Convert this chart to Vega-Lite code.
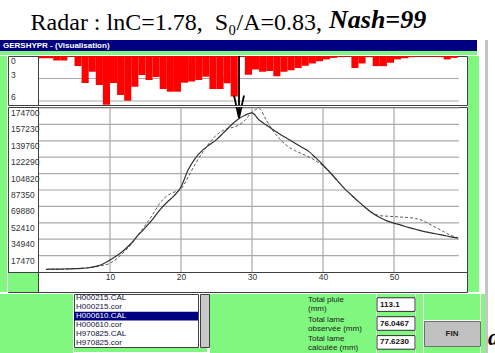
{
  "$schema": "https://vega.github.io/schema/vega-lite/v6.json",
  "padding": 0,
  "background": "white",
  "spacing": 0,
  "config": {"view": {"stroke": null}, "font": "Liberation Sans", "axis": {"labelOverlap": false, "labelBound": false}},
  "datasets": {
    "rain": [
      {"t0":0,"t1":1,"p":0.3},{"t0":1,"t1":2,"p":0.3},{"t0":2,"t1":3,"p":0.6},{"t0":3,"t1":4,"p":0.6},{"t0":4,"t1":5,"p":0.1},
      {"t0":5,"t1":6,"p":1.33},{"t0":6,"t1":7,"p":3.6},{"t0":7,"t1":8,"p":2.1},{"t0":8,"t1":9,"p":3.87},{"t0":9,"t1":10,"p":6.5},
      {"t0":10,"t1":11,"p":3.6},{"t0":11,"t1":12,"p":5.2},{"t0":12,"t1":13,"p":5.96},{"t0":13,"t1":14,"p":4.1},{"t0":14,"t1":15,"p":2.53},
      {"t0":15,"t1":16,"p":3.2},{"t0":16,"t1":17,"p":2.8},{"t0":17,"t1":18,"p":4.4},{"t0":18,"t1":19,"p":4.76},{"t0":19,"t1":20,"p":4.76},
      {"t0":20,"t1":21,"p":3.56},{"t0":21,"t1":22,"p":3.4},{"t0":22,"t1":23,"p":3.2},{"t0":23,"t1":24,"p":2.76},{"t0":24,"t1":25,"p":4.4},
      {"t0":25,"t1":26,"p":4.4},{"t0":26,"t1":27,"p":3.64},{"t0":27,"t1":28,"p":5.4},{"t0":28,"t1":29,"p":0.1},{"t0":29,"t1":30,"p":2.5},
      {"t0":30,"t1":31,"p":1.8},{"t0":31,"t1":32,"p":2.1},{"t0":32,"t1":33,"p":2.0},{"t0":33,"t1":34,"p":2.7},{"t0":34,"t1":35,"p":2.1},
      {"t0":35,"t1":36,"p":1.9},{"t0":36,"t1":37,"p":1.6},{"t0":37,"t1":38,"p":1.3},{"t0":38,"t1":39,"p":1.0},{"t0":39,"t1":40,"p":0.7},
      {"t0":40,"t1":41,"p":0.45},{"t0":41,"t1":42,"p":0.25},{"t0":42,"t1":43,"p":0.15},{"t0":43,"t1":44,"p":0.1},{"t0":44,"t1":45,"p":1.6},
      {"t0":45,"t1":46,"p":1.0},{"t0":46,"t1":47,"p":0.15},{"t0":47,"t1":48,"p":1.35},{"t0":48,"t1":49,"p":1.35},{"t0":49,"t1":50,"p":0.9},
      {"t0":50,"t1":51,"p":0.45},{"t0":51,"t1":52,"p":0.3},{"t0":52,"t1":53,"p":0.15},{"t0":53,"t1":54,"p":0.1},{"t0":54,"t1":55,"p":0.1},
      {"t0":55,"t1":56,"p":0.1},{"t0":56,"t1":57,"p":0.15},{"t0":57,"t1":58,"p":0.45},{"t0":58,"t1":59,"p":0.25}
    ],
    "flow": [
      {"t":1,"calc":2900,"obs":2800},{"t":2,"calc":3000,"obs":2900},{"t":3,"calc":3100,"obs":3000},{"t":4,"calc":3300,"obs":3300},
      {"t":5,"calc":3500,"obs":3600},{"t":6,"calc":3900,"obs":4000},{"t":7,"calc":4500,"obs":4600},{"t":8,"calc":6000,"obs":5500},
      {"t":9,"calc":8500,"obs":7000},{"t":10,"calc":12800,"obs":9300},{"t":11,"calc":17500,"obs":14500},{"t":12,"calc":23500,"obs":21500},
      {"t":13,"calc":30600,"obs":29500},{"t":14,"calc":39500,"obs":40000},{"t":15,"calc":47500,"obs":50000},{"t":16,"calc":56000,"obs":61000},
      {"t":17,"calc":66000,"obs":73000},{"t":18,"calc":74000,"obs":81000},{"t":19,"calc":81000,"obs":85000},{"t":20,"calc":90500,"obs":88500},
      {"t":21,"calc":108600,"obs":101000},{"t":22,"calc":121000,"obs":115000},{"t":23,"calc":129500,"obs":127000},{"t":24,"calc":135500,"obs":137500},
      {"t":25,"calc":141000,"obs":146000},{"t":26,"calc":148500,"obs":151000},{"t":27,"calc":156000,"obs":153500},{"t":28,"calc":162500,"obs":156000},
      {"t":29,"calc":167000,"obs":161500},{"t":30,"calc":169500,"obs":170500},{"t":31,"calc":162000,"obs":174000},{"t":32,"calc":156500,"obs":162000},
      {"t":33,"calc":151500,"obs":150000},{"t":34,"calc":146500,"obs":141000},{"t":35,"calc":142000,"obs":134000},{"t":36,"calc":137500,"obs":129500},
      {"t":37,"calc":133000,"obs":126000},{"t":38,"calc":128500,"obs":122500},{"t":39,"calc":121500,"obs":118500},{"t":40,"calc":114000,"obs":113000},
      {"t":41,"calc":106000,"obs":106000},{"t":42,"calc":97500,"obs":97000},{"t":43,"calc":89000,"obs":89000},{"t":44,"calc":82000,"obs":82000},
      {"t":45,"calc":75000,"obs":75000},{"t":46,"calc":68500,"obs":68500},{"t":47,"calc":62500,"obs":63000},{"t":48,"calc":58000,"obs":60000},
      {"t":49,"calc":54500,"obs":59500},{"t":50,"calc":52000,"obs":59000},{"t":51,"calc":50000,"obs":58500},{"t":52,"calc":47500,"obs":58000},
      {"t":53,"calc":45500,"obs":57000},{"t":54,"calc":43500,"obs":55000},{"t":55,"calc":42000,"obs":51000},{"t":56,"calc":40500,"obs":47000},
      {"t":57,"calc":39000,"obs":43000},{"t":58,"calc":37500,"obs":39000},{"t":59,"calc":36000,"obs":36500}
    ],
    "files": [
      {"f":"H000215.CAL","sel":false},{"f":"H000215.cor","sel":false},{"f":"H000610.CAL","sel":true},
      {"f":"H000610.cor","sel":false},{"f":"H970825.CAL","sel":false},{"f":"H970825.cor","sel":false}
    ],
    "totals": [
      {"k":"a","label":"Total pluie\n(mm)","val":"113.1"},
      {"k":"b","label":"Total lame\nobservée (mm)","val":"76.0467"},
      {"k":"c","label":"Total lame\ncalculée (mm)","val":"77.6230"}
    ],
    "qgrid": [{"q":17470},{"q":34940},{"q":52410},{"q":69880},{"q":87350},{"q":104820},{"q":122290},{"q":139760},{"q":157230},{"q":174700}]
  },
  "vconcat": [
    {"width": 495, "height": 7, "data": {"values": []}, "mark": "point"},
    {
      "spacing": 0,
      "hconcat": [
        {"width": 322, "height": 1, "data": {"values": []}, "mark": "point",
         "title": {"text": "Radar : lnC=1.78,\u00a0 S\u2080/A=0.83,", "orient": "top", "anchor": "end", "frame": "group", "offset": -15, "baseline": "alphabetic", "font": "Liberation Serif", "fontSize": 24, "fontWeight": "normal", "color": "black"}},
        {"width": 173, "height": 1, "data": {"values": []}, "mark": "point",
         "title": {"text": "Nash=99", "orient": "top", "anchor": "start", "frame": "group", "offset": -15, "dx": 7, "baseline": "alphabetic", "font": "Liberation Serif", "fontSize": 26, "fontWeight": "bold", "fontStyle": "italic", "color": "black"}}
      ]
    },
    {
      "spacing": 0,
      "hconcat": [
        {
          "spacing": 0,
          "vconcat": [
            {"width": 477, "height": 11, "view": {"fill": "#000080"},
             "data": {"values": [{"s": "GERSHYPR - (Visualisation)"}]},
             "mark": {"type": "text", "align": "left", "baseline": "middle", "dx": 3, "fontSize": 8, "fontWeight": "bold", "color": "white"},
             "encoding": {"x": {"datum": 0, "type": "quantitative", "scale": {"domain": [0, 1]}, "axis": null}, "text": {"field": "s"}}},
            {"width": 477, "height": 4, "view": {"fill": "#80f880"}, "data": {"values": []}, "mark": "point"},
            {
              "spacing": 0,
              "hconcat": [
                {"width": 7, "height": 236, "view": {"fill": "#80f880"}, "data": {"values": []}, "mark": "point"},
                {
                  "spacing": 0,
                  "vconcat": [
                    {
                      "width": 459, "height": 49,
                      "view": {"fill": "white", "stroke": "#404040"},
                      "layer": [
                        {
                          "data": {"values": [{"g": 3}, {"g": 6}]},
                          "mark": {"type": "rule", "color": "#aaaaaa", "strokeWidth": 1.2},
                          "encoding": {
                            "y": {"field": "g", "type": "quantitative", "scale": {"domain": [0, 6.533], "reverse": true, "nice": false, "zero": false},
                                  "axis": {"orient": "left", "offset": -30, "values": [0, 3, 6], "grid": false, "ticks": false, "labels": false, "domain": true, "domainColor": "#404040", "title": null, "zindex": 1}},
                            "x": {"datum": 0, "type": "quantitative", "scale": {"domain": [-4.366, 60.282], "nice": false, "zero": false}, "axis": null},
                            "x2": {"datum": 59.15}
                          }
                        },
                        {
                          "data": {"values": [{"g": 0}, {"g": 3}, {"g": 6}]},
                          "mark": {"type": "text", "align": "left", "baseline": "middle", "dx": 3, "dy": {"expr": "datum.g == 0 ? 5 : -4"}, "fontSize": 8.5, "color": "#333333"},
                          "encoding": {
                            "x": {"datum": -4.366, "type": "quantitative"},
                            "y": {"field": "g", "type": "quantitative", "title": null},
                            "text": {"field": "g", "type": "quantitative"}
                          }
                        },
                        {
                          "data": {"name": "rain"},
                          "mark": {"type": "rect", "color": "#ff0000"},
                          "encoding": {
                            "x": {"field": "t0", "type": "quantitative", "title": null},
                            "x2": {"field": "t1"},
                            "y": {"field": "p", "type": "quantitative", "title": null},
                            "y2": {"datum": 0}
                          }
                        },
                        {
                          "data": {"values": [{"t": 28.17, "p": 8.27}]},
                          "mark": {"type": "point", "clip": true, "shape": "M0,-2.48L0,0M-0.2,-0.9L0,0L0.2,-0.9", "size": 2500, "filled": false, "stroke": "black", "strokeWidth": 1.8, "opacity": 1},
                          "encoding": {
                            "x": {"field": "t", "type": "quantitative", "title": null},
                            "y": {"field": "p", "type": "quantitative", "title": null}
                          }
                        }
                      ]
                    },
                    {
                      "width": 459, "height": 185,
                      "view": {"fill": "white", "stroke": "#404040"},
                      "layer": [
                        {
                          "data": {"name": "qgrid"},
                          "mark": {"type": "rule", "color": "#aaaaaa", "strokeWidth": 1.2},
                          "encoding": {
                            "y": {"field": "q", "type": "quantitative", "scale": {"domain": [-21305, 175765], "nice": false, "zero": false},
                                  "axis": {"orient": "left", "offset": -30, "values": [87350], "grid": false, "ticks": false, "labels": false, "domain": true, "domainColor": "#404040", "title": null, "zindex": 1}},
                            "x": {"datum": 0, "type": "quantitative", "scale": {"domain": [-4.366, 60.282], "nice": false, "zero": false},
                                  "axis": {"orient": "bottom", "offset": -20, "values": [10, 20, 30, 40, 50], "grid": false, "ticks": false, "domain": true, "domainColor": "#404040",
                                           "labelPadding": 0, "labelFontSize": 8.5, "labelColor": "#333333", "title": null, "zindex": 1}},
                            "x2": {"datum": 59.15}
                          }
                        },
                        {
                          "data": {"name": "qgrid"},
                          "mark": {"type": "text", "align": "left", "baseline": "top", "dx": 3, "dy": 1, "fontSize": 8.5, "color": "#333333"},
                          "encoding": {
                            "x": {"datum": -4.366, "type": "quantitative"},
                            "y": {"field": "q", "type": "quantitative", "title": null},
                            "text": {"field": "q", "type": "quantitative", "format": "d"}
                          }
                        },
                        {
                          "data": {"values": [{"g":10},{"g":20},{"g":30},{"g":40},{"g":50}]},
                          "mark": {"type": "rule", "color": "#aaaaaa", "strokeWidth": 1.2},
                          "encoding": {
                            "x": {"field": "g", "type": "quantitative", "title": null},
                            "y": {"datum": 0, "type": "quantitative"},
                            "y2": {"datum": 174700}
                          }
                        },
                        {
                          "data": {"values": [{}]},
                          "mark": {"type": "rect", "color": "#80f880"},
                          "encoding": {
                            "x": {"datum": -4.366, "type": "quantitative"},
                            "x2": {"datum": -0.14},
                            "y": {"datum": -21305, "type": "quantitative"},
                            "y2": {"datum": -1000}
                          }
                        },
                        {
                          "data": {"name": "flow"},
                          "mark": {"type": "line", "color": "#5a5a5a", "strokeWidth": 1, "strokeDash": [3, 2], "interpolate": "monotone"},
                          "encoding": {
                            "x": {"field": "t", "type": "quantitative", "title": null},
                            "y": {"field": "obs", "type": "quantitative", "title": null}
                          }
                        },
                        {
                          "data": {"name": "flow"},
                          "mark": {"type": "line", "color": "#303030", "strokeWidth": 1.2, "interpolate": "monotone"},
                          "encoding": {
                            "x": {"field": "t", "type": "quantitative", "title": null},
                            "y": {"field": "calc", "type": "quantitative", "title": null}
                          }
                        },
                        {
                          "data": {"values": [{"t": 28.17, "q": 164040}]},
                          "mark": {"type": "point", "clip": true, "shape": "M0,-2.48L0,0M-0.2,-0.9L0,0L0.2,-0.9", "size": 2500, "filled": false, "stroke": "black", "strokeWidth": 1.8, "opacity": 1},
                          "encoding": {
                            "x": {"field": "t", "type": "quantitative", "title": null},
                            "y": {"field": "q", "type": "quantitative", "title": null}
                          }
                        }
                      ]
                    }
                  ]
                },
                {"width": 11, "height": 236, "view": {"fill": "#80f880"}, "data": {"values": []}, "mark": "point"}
              ]
            },
            {
              "spacing": 0,
              "hconcat": [
                {"width": 73, "height": 59, "view": {"fill": "#80f880"}, "data": {"values": []}, "mark": "point"},
                {
                  "spacing": 0,
                  "vconcat": [
                    {
                      "spacing": 0,
                      "hconcat": [
                        {
                          "width": 124, "height": 53,
                          "view": {"fill": "white", "stroke": "#404040"},
                          "data": {"name": "files"},
                          "layer": [
                            {
                              "transform": [{"filter": "datum.sel"}],
                              "mark": {"type": "rect", "color": "#000080"},
                              "encoding": {
                                "y": {"field": "f", "type": "nominal", "scale": {"domain": ["H000215.CAL","H000215.cor","H000610.CAL","H000610.cor","H970825.CAL","H970825.cor"], "paddingInner": 0, "paddingOuter": 0}, "axis": null}
                              }
                            },
                            {
                              "mark": {"type": "text", "align": "left", "baseline": "middle", "dx": 2, "fontSize": 8},
                              "encoding": {
                                "x": {"datum": 0, "type": "quantitative", "scale": {"domain": [0, 1]}, "axis": null},
                                "y": {"field": "f", "type": "nominal", "axis": null},
                                "text": {"field": "f"},
                                "color": {"condition": {"test": "datum.sel", "value": "white"}, "value": "#101040"}
                              }
                            }
                          ]
                        },
                        {"width": 9, "height": 53, "view": {"fill": "#c8c8c8", "stroke": "#404040"}, "data": {"values": []}, "mark": "point"}
                      ]
                    },
                    {"width": 133, "height": 4, "view": {"fill": "#80f880"}, "data": {"values": []}, "mark": "point"}
                  ]
                },
                {"width": 98, "height": 59, "view": {"fill": "#80f880"}, "data": {"values": []}, "mark": "point"},
                {
                  "width": 68, "height": 59,
                  "view": {"fill": "#80f880"},
                  "data": {"name": "totals"},
                  "mark": {"type": "text", "align": "left", "baseline": "middle", "lineBreak": "\n", "lineHeight": 9, "fontSize": 8, "dy": -4, "color": "#202020"},
                  "encoding": {
                    "x": {"datum": 0, "type": "quantitative", "scale": {"domain": [0, 1]}, "axis": null},
                    "y": {"field": "k", "type": "nominal", "scale": {"paddingInner": 0.28, "paddingOuter": 0.2}, "axis": null},
                    "text": {"field": "label"}
                  }
                },
                {
                  "width": 38, "height": 59,
                  "view": {"fill": "#80f880"},
                  "data": {"name": "totals"},
                  "layer": [
                    {
                      "mark": {"type": "rect", "fill": "white", "stroke": "#303030", "strokeWidth": 1},
                      "encoding": {
                        "y": {"field": "k", "type": "nominal", "scale": {"paddingInner": 0.28, "paddingOuter": 0.2}, "axis": null}
                      }
                    },
                    {
                      "mark": {"type": "text", "align": "left", "baseline": "middle", "dx": 3, "fontSize": 8, "fontWeight": "bold", "color": "#101010"},
                      "encoding": {
                        "x": {"datum": 0, "type": "quantitative", "scale": {"domain": [0, 1]}, "axis": null},
                        "y": {"field": "k", "type": "nominal", "axis": null},
                        "text": {"field": "val"}
                      }
                    }
                  ]
                },
                {"width": 7, "height": 59, "view": {"fill": "#80f880"}, "data": {"values": []}, "mark": "point"},
                {
                  "spacing": 0,
                  "vconcat": [
                    {"width": 56, "height": 26, "view": {"fill": "#80f880"}, "data": {"values": []}, "mark": "point"},
                    {"width": 56, "height": 25, "view": {"fill": "#c0c0c0", "stroke": "#707070"},
                     "data": {"values": [{"b": "FIN"}]},
                     "mark": {"type": "text", "fontSize": 8, "fontWeight": "bold", "color": "#202020"},
                     "encoding": {"text": {"field": "b"}}},
                    {"width": 56, "height": 6, "view": {"fill": "#80f880"}, "data": {"values": []}, "mark": "point"}
                  ]
                },
                {"width": 4, "height": 59, "view": {"fill": "#80f880"}, "data": {"values": []}, "mark": "point"}
              ]
            }
          ]
        },
        {"width": 3, "height": 313, "view": {"fill": "#c4c4c4"}, "data": {"values": []}, "mark": "point"},
        {
          "spacing": 0,
          "vconcat": [
            {"width": 15, "height": 283, "data": {"values": []}, "mark": "point"},
            {"width": 15, "height": 30, "data": {"values": [{"c": "d"}]},
             "mark": {"type": "text", "align": "left", "baseline": "middle", "dx": -2, "font": "Liberation Serif", "fontSize": 23, "fontWeight": "bold", "fontStyle": "italic", "color": "black"},
             "encoding": {"x": {"datum": 0, "type": "quantitative", "scale": {"domain": [0, 1]}, "axis": null}, "text": {"field": "c"}}}
          ]
        }
      ]
    }
  ]
}
